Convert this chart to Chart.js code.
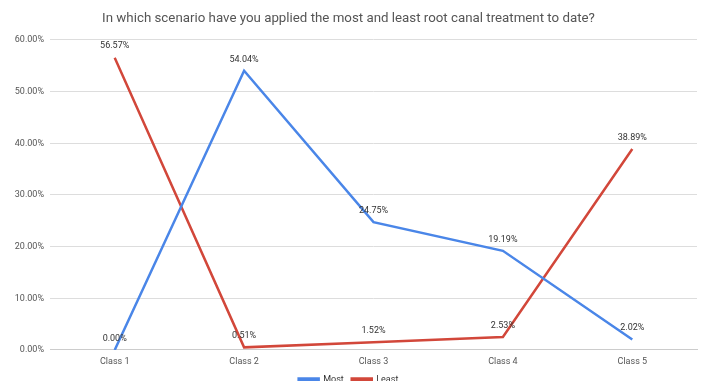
<!DOCTYPE html>
<html>
<head>
<meta charset="utf-8">
<script src="https://cdn.jsdelivr.net/npm/chart.js@4"></script>
<style>
  html, body { margin: 0; padding: 0; background: #ffffff; }
  #wrap { width: 707px; height: 381px; position: relative; }
</style>
</head>
<body>
<div id="wrap"><canvas id="c" width="707" height="381"></canvas></div>
<script>
const categories = ['Class 1', 'Class 2', 'Class 3', 'Class 4', 'Class 5'];
const mostValues = [0.00, 54.04, 24.75, 19.19, 2.02];
const leastValues = [56.57, 0.51, 1.52, 2.53, 38.89];
const yTicks = [0, 10, 20, 30, 40, 50, 60];

const FONT = 'Roboto, "Liberation Sans", Arial, sans-serif';

// Writes each point's value just above it
const pointLabels = {
  id: 'pointLabels',
  afterDatasetsDraw(chart) {
    const ctx = chart.ctx;
    ctx.save();
    ctx.font = '9px ' + FONT;
    ctx.fillStyle = '#333333';
    ctx.textAlign = 'center';
    ctx.textBaseline = 'bottom';
    chart.data.datasets.forEach((ds, i) => {
      chart.getDatasetMeta(i).data.forEach((pt, j) => {
        ctx.fillText(ds.data[j].toFixed(2) + '%', pt.x, pt.y - 7);
      });
    });
    ctx.restore();
  }
};

new Chart(document.getElementById('c'), {
  type: 'line',
  data: {
    labels: categories,
    datasets: [
      {
        label: 'Most',
        data: mostValues,
        borderColor: '#4a86e8',
        backgroundColor: '#4a86e8',
        borderWidth: 2.5,
        pointRadius: 0,
        tension: 0
      },
      {
        label: 'Least',
        data: leastValues,
        borderColor: '#d2473a',
        backgroundColor: '#d2473a',
        borderWidth: 2.5,
        pointRadius: 0,
        tension: 0
      }
    ]
  },
  options: {
    responsive: false,
    animation: false,
    layout: { padding: { left: 0, right: 10, top: 8, bottom: -13 } },
    plugins: {
      title: {
        display: true,
        text: 'In which scenario have you applied the most and least root canal treatment to date?',
        color: '#555555',
        font: { family: FONT, size: 13.3, weight: 'normal' },
        padding: { top: 3, bottom: 13 }
      },
      legend: {
        position: 'bottom',
        labels: {
          color: '#333333',
          font: { family: FONT, size: 9 },
          boxWidth: 20,
          boxHeight: 2,
          padding: 8
        }
      },
      tooltip: { enabled: false }
    },
    scales: {
      x: {
        offset: true,
        afterFit(scale) { scale.height = 17; },
        grid: { display: false, drawTicks: false },
        border: { color: '#cccccc' },
        ticks: { color: '#555555', font: { family: FONT, size: 9 }, padding: 6 }
      },
      y: {
        min: 0,
        max: 60,
        afterFit(scale) { scale.width = 50; },
        afterBuildTicks(scale) { scale.ticks = yTicks.map(v => ({ value: v })); },
        grid: { color: '#dddddd', drawTicks: false },
        border: { display: false },
        ticks: {
          color: '#555555',
          font: { family: FONT, size: 9 },
          padding: 6,
          callback: v => v.toFixed(2) + '%'
        }
      }
    }
  },
  plugins: [pointLabels]
});
</script>
</body>
</html>
